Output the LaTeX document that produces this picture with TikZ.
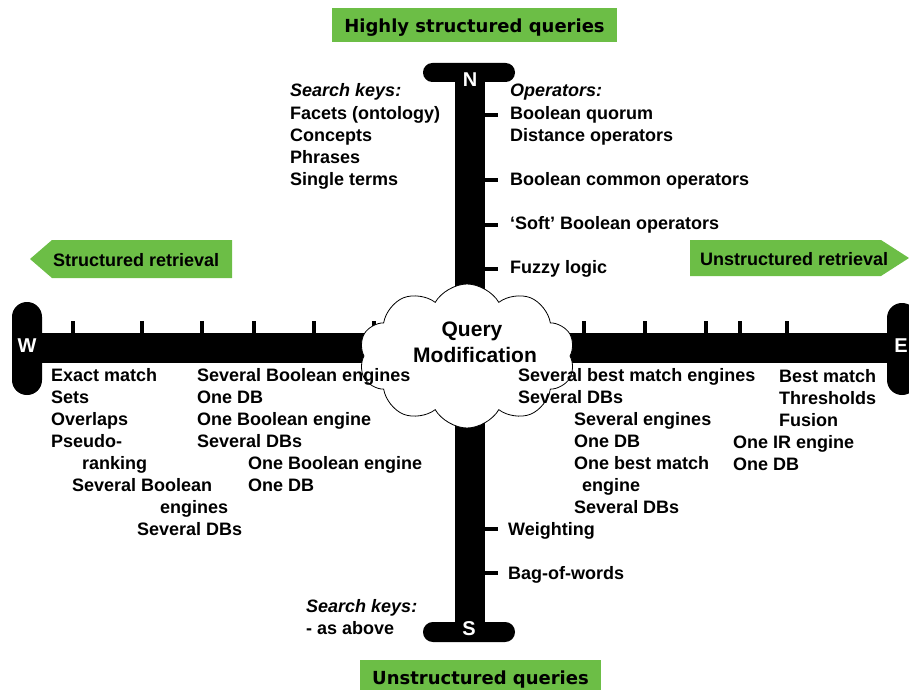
\documentclass[tikz,border=0pt]{standalone}
\usepackage{fontspec}
\setmainfont{Liberation Sans}
\newfontfamily\bannerfont{DejaVu Sans}
\usetikzlibrary{shapes.symbols}
\definecolor{leaf}{RGB}{108,190,70}
\tikzset{
  lbl/.style={anchor=base west, inner sep=0pt, font=\fontsize{18}{22}\selectfont\bfseries},
  ilbl/.style={lbl, font=\fontsize{18}{22}\selectfont\bfseries\itshape},
  pole/.style={fill=black},
  compass/.style={text=white, inner sep=0pt, font=\fontsize{20}{20}\selectfont\bfseries},
  banner/.style={fill=leaf, draw=none},
  bannertext/.style={anchor=base, inner sep=0pt, font=\bannerfont\fontsize{18}{18}\selectfont\bfseries},
  qmtext/.style={anchor=base, inner sep=0pt, font=\fontsize{21}{26}\selectfont\bfseries},
  bubble/.style={cloud, draw, fill=white, line width=0.8pt, cloud puffs=10,
    cloud puff arc=120, cloud ignores aspect, inner sep=0pt},
}
\newcommand\lbltext[5][lbl]{\node[#1] (#2) at (#3,#4) {#5};}
\begin{document}
\begin{tikzpicture}[x=1pt, y=-1pt]
\useasboundingbox (0,0) rectangle (909,690);

% green banners
\fill[banner] (332,8) rectangle (617,42);
\node[bannertext] (hsq) at (474.5,33) {Highly structured queries};
\fill[banner] (360,660) rectangle (601,690);
\node[bannertext] (usq) at (480.5,684) {Unstructured queries};
\fill[banner] (30,259) -- (52,240) -- (232,240) -- (232,278) -- (52,278) -- cycle;
\lbltext{sr}{53}{266}{Structured retrieval}
\fill[banner] (690,240) -- (881,240) -- (909,258) -- (881,276) -- (690,276) -- cycle;
\lbltext{ur}{700}{265}{Unstructured retrieval}

% axes with end caps
\fill[pole] (42,333) rectangle (887,363);
\fill[pole] (455,80) rectangle (485,624);
\fill[pole, rounded corners=9.4pt] (423,63) rectangle (515,82);
\fill[pole, rounded corners=9.9pt] (423,622) rectangle (515,642);
\fill[pole, rounded corners=14.9pt] (12,302) rectangle (42,395);
\fill[pole, rounded corners=14.9pt] (887,303) rectangle (917,395);

% scale ticks
\foreach \x in {72.5,141.5,201.5,254,314,374,583.5,644.5,705.5,739.5,786.5}
  \fill[pole] (\x-2,321) rectangle (\x+2,333);
\foreach \y in {115,179.5,225,269,528.5,572.5}
  \fill[pole] (485,\y-2) rectangle (498,\y+2);

% compass letters
\node[compass] (cn) at (470,80) {N};
\node[compass] (cs) at (469,629) {S};
\node[compass] (cw) at (27,346) {W};
\node[compass] (ce) at (901,346) {E};

% central cloud
\node[bubble, minimum width=216pt, minimum height=144pt] (qm) at (467,356) {};
\node[qmtext] (qm1) at (472,336) {Query};
\node[qmtext] (qm2) at (475,362) {Modification};

% north
\lbltext[ilbl]{nk}{290}{97}{Search keys:}
\lbltext{nk1}{290}{119}{Facets (ontology)}
\lbltext{nk2}{290}{141}{Concepts}
\lbltext{nk3}{290}{163}{Phrases}
\lbltext{nk4}{290}{185}{Single terms}
\lbltext[ilbl]{no}{510}{97}{Operators:}
\lbltext{no1}{510}{119}{Boolean quorum}
\lbltext{no2}{510}{141}{Distance operators}
\lbltext{no3}{510}{185}{Boolean common operators}
\lbltext{no4}{510}{229}{‘Soft’ Boolean operators}
\lbltext{no5}{510}{273}{Fuzzy logic}

% west
\lbltext{w1}{51}{381}{Exact match}
\lbltext{w2}{51}{403}{Sets}
\lbltext{w3}{51}{425}{Overlaps}
\lbltext{w4}{51}{447}{Pseudo-}
\lbltext{w5}{82}{469}{ranking}
\lbltext{w6}{72}{491}{Several Boolean}
\lbltext{w7}{160}{513}{engines}
\lbltext{w8}{137}{535}{Several DBs}
\lbltext{w9}{197}{381}{Several Boolean engines}
\lbltext{w10}{197}{403}{One DB}
\lbltext{w11}{197}{425}{One Boolean engine}
\lbltext{w12}{197}{447}{Several DBs}
\lbltext{w13}{248}{469}{One Boolean engine}
\lbltext{w14}{248}{491}{One DB}

% east
\lbltext{e1}{518}{381}{Several best match engines}
\lbltext{e2}{518}{403}{Several DBs}
\lbltext{e3}{574}{425}{Several engines}
\lbltext{e4}{574}{447}{One DB}
\lbltext{e5}{574}{469}{One best match}
\lbltext{e6}{582}{491}{engine}
\lbltext{e7}{574}{513}{Several DBs}
\lbltext{e8}{779}{382}{Best match}
\lbltext{e9}{779}{404}{Thresholds}
\lbltext{e10}{779}{426}{Fusion}
\lbltext{e11}{733}{448}{One IR engine}
\lbltext{e12}{733}{470}{One DB}

% south
\lbltext{s1}{508}{535}{Weighting}
\lbltext{s2}{508}{579}{Bag-of-words}
\lbltext[ilbl]{sk}{306}{612}{Search keys:}
\lbltext{sk1}{306}{634}{- as above}
\end{tikzpicture}
\end{document}
